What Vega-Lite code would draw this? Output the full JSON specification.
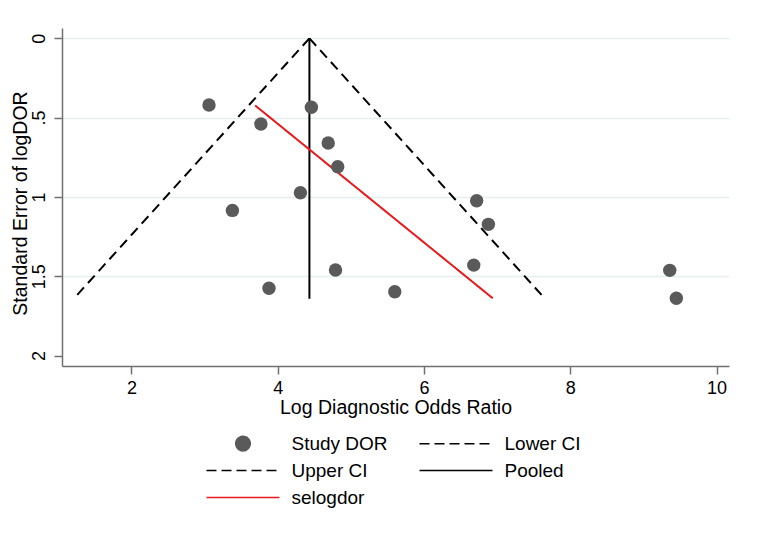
{
  "$schema": "https://vega.github.io/schema/vega-lite/v6.json",
  "width": 667,
  "height": 338,
  "autosize": {"type": "none"},
  "padding": {"left": 62, "top": 28, "right": 28, "bottom": 176},
  "background": "white",
  "config": {
    "font": "Liberation Sans",
    "view": {"stroke": null},
    "axis": {
      "domainColor": "#707070",
      "tickColor": "#707070",
      "domainWidth": 1.5,
      "tickWidth": 1.5,
      "tickSize": 8,
      "labelColor": "black",
      "titleColor": "black",
      "labelFontSize": 18,
      "titleFontSize": 19.5,
      "titleFontWeight": "normal"
    }
  },
  "datasets": {
    "pts": [
      {"series": "Study DOR", "logdor": 3.06, "se": 0.42},
      {"series": "Study DOR", "logdor": 3.77, "se": 0.54},
      {"series": "Study DOR", "logdor": 4.46, "se": 0.435},
      {"series": "Study DOR", "logdor": 4.69, "se": 0.66},
      {"series": "Study DOR", "logdor": 4.82, "se": 0.81},
      {"series": "Study DOR", "logdor": 4.31, "se": 0.974},
      {"series": "Study DOR", "logdor": 3.38, "se": 1.085},
      {"series": "Study DOR", "logdor": 3.88, "se": 1.576},
      {"series": "Study DOR", "logdor": 4.79, "se": 1.461},
      {"series": "Study DOR", "logdor": 5.6, "se": 1.598},
      {"series": "Study DOR", "logdor": 6.72, "se": 1.024},
      {"series": "Study DOR", "logdor": 6.88, "se": 1.173},
      {"series": "Study DOR", "logdor": 6.68, "se": 1.43},
      {"series": "Study DOR", "logdor": 9.36, "se": 1.463},
      {"series": "Study DOR", "logdor": 9.45, "se": 1.639}
    ],
    "lines": [
      {"series": "Lower CI", "logdor": 4.433, "se": 0},
      {"series": "Lower CI", "logdor": 1.21, "se": 1.642},
      {"series": "Upper CI", "logdor": 4.433, "se": 0},
      {"series": "Upper CI", "logdor": 7.655, "se": 1.642},
      {"series": "Pooled", "logdor": 4.433, "se": 0},
      {"series": "Pooled", "logdor": 4.433, "se": 1.642},
      {"series": "selogdor", "logdor": 3.69, "se": 0.423},
      {"series": "selogdor", "logdor": 6.94, "se": 1.639}
    ]
  },
  "encoding": {
    "x": {
      "field": "logdor",
      "type": "quantitative",
      "scale": {"domain": [1.05, 10.17], "nice": false, "zero": false},
      "axis": {
        "title": "Log Diagnostic Odds Ratio",
        "values": [2, 4, 6, 8, 10],
        "grid": false,
        "labelPadding": 5,
        "titlePadding": 1.5
      }
    },
    "y": {
      "field": "se",
      "type": "quantitative",
      "scale": {"domain": [-0.065, 2.066], "reverse": true, "nice": false, "zero": false},
      "axis": {
        "title": "Standard Error of logDOR",
        "values": [0, 0.5, 1, 1.5, 2],
        "labelExpr": "datum.value === 0.5 ? '.5' : format(datum.value, '~g')",
        "labelAngle": -90,
        "labelAlign": "center",
        "labelBaseline": "bottom",
        "labelPadding": 6,
        "titlePadding": 0,
        "titleY": 175,
        "grid": true,
        "gridColor": {"condition": {"test": "datum.value >= 2", "value": "transparent"}, "value": "#e6eff0"},
        "gridWidth": 1.5
      }
    },
    "color": {
      "field": "series",
      "type": "nominal",
      "scale": {
        "domain": ["Study DOR", "Upper CI", "selogdor", "Lower CI", "Pooled"],
        "range": ["#5a5a5a", "#000000", "#e8191c", "#000000", "#000000"]
      },
      "legend": {
        "title": null,
        "orient": "none",
        "legendX": 135,
        "legendY": 406,
        "columns": 2,
        "padding": 0,
        "columnPadding": 22,
        "rowPadding": 7,
        "labelFontSize": 19,
        "labelColor": "black",
        "labelOffset": 75.5,
        "symbolSize": 100,
        "symbolStrokeWidth": 1.5,
        "encode": {
          "symbols": {
            "update": {
              "shape": {"signal": "datum.value === 'Study DOR' ? 'M5.84,0a1.46,1.46 0 1,0 2.92,0a1.46,1.46 0 1,0 -2.92,0' : 'M0,0H14.6'"},
              "fill": {"signal": "datum.value === 'Study DOR' ? '#5a5a5a' : 'transparent'"},
              "stroke": {"signal": "datum.value === 'Study DOR' ? 'transparent' : (datum.value === 'selogdor' ? '#e8191c' : 'black')"},
              "strokeDash": {"signal": "(datum.value === 'Lower CI' || datum.value === 'Upper CI') ? [10, 5] : [1, 0]"},
              "strokeWidth": {"value": 1.5},
              "opacity": {"value": 1}
            }
          }
        }
      }
    }
  },
  "layer": [
    {
      "data": {"name": "lines"},
      "mark": {"type": "line", "strokeWidth": 2},
      "encoding": {
        "strokeDash": {
          "field": "series",
          "type": "nominal",
          "scale": {
            "domain": ["Lower CI", "Upper CI", "Pooled", "selogdor"],
            "range": [[10, 6], [10, 6], [1, 0], [1, 0]]
          },
          "legend": null
        },
        "order": {"field": "se", "type": "quantitative"}
      }
    },
    {
      "data": {"name": "pts"},
      "mark": {"type": "point", "filled": true, "size": 180, "opacity": 1, "shape": "circle"}
    }
  ]
}
